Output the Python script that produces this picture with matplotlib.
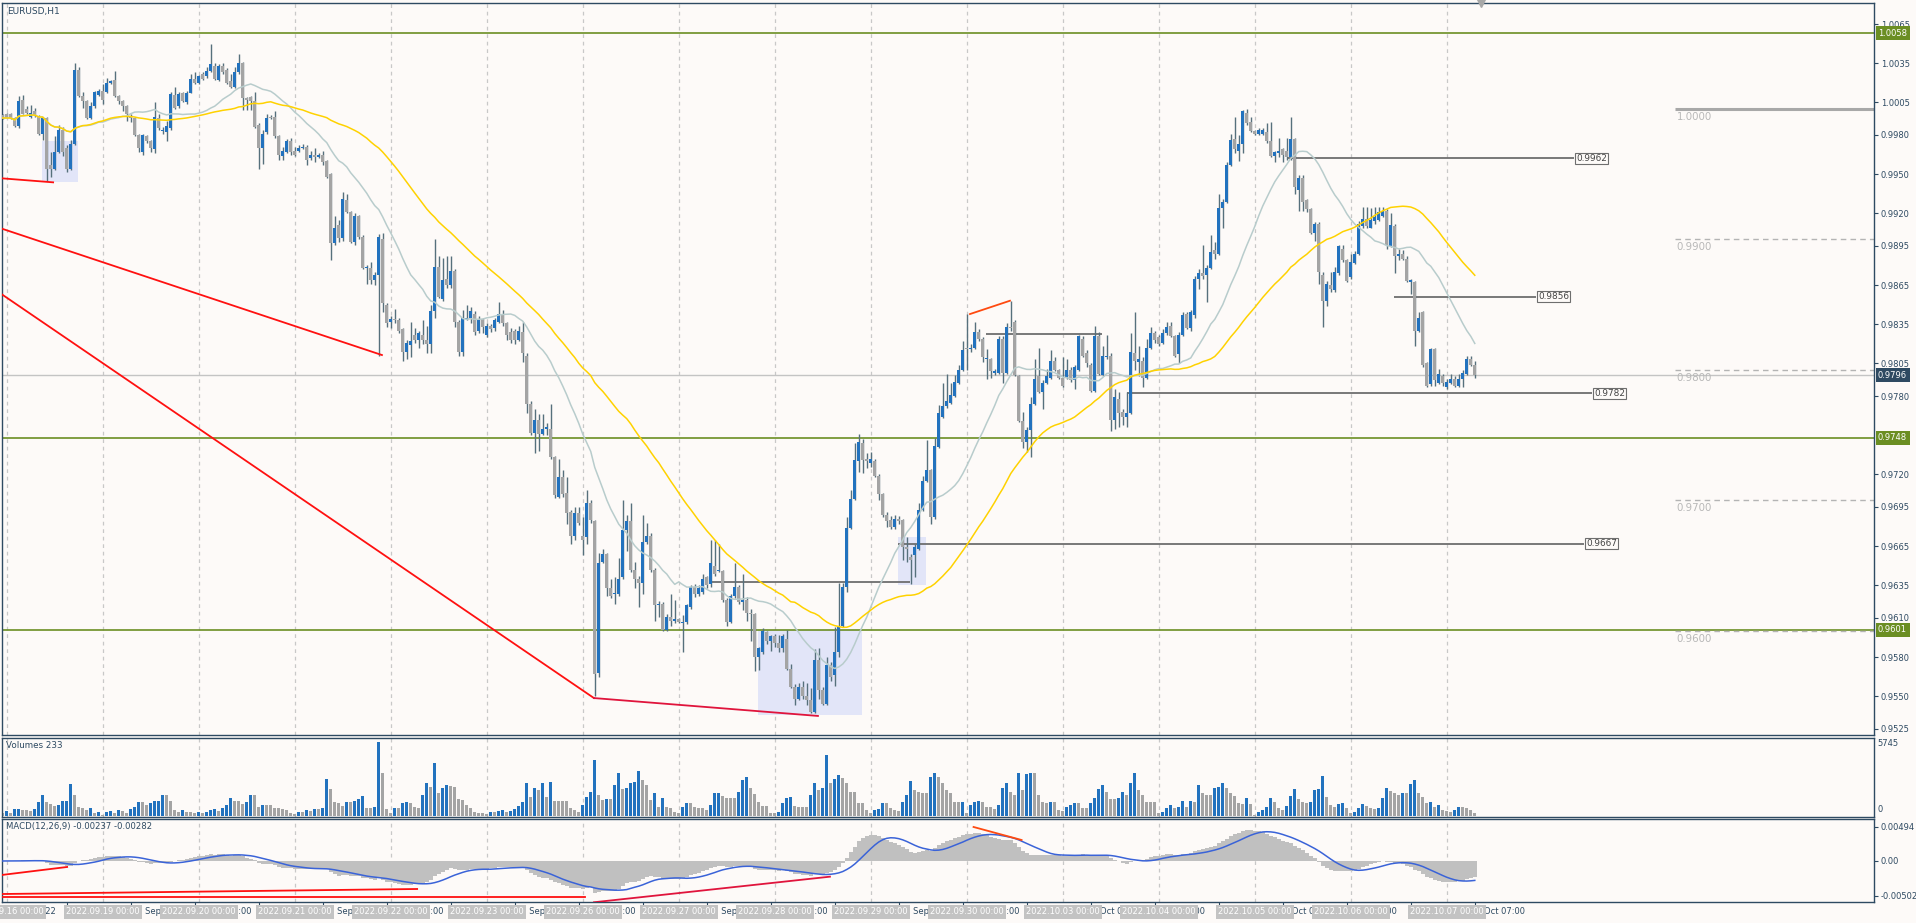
import matplotlib
matplotlib.use("Agg")
import matplotlib.pyplot as plt
import matplotlib.transforms as mtransforms
from matplotlib.patches import Rectangle
import numpy as np
import pandas as pd

W, H = 1916, 923
BG = "#fdfaf8"
FRAME = "#2e4a62"
UP = "#2272be"
DOWN = "#a4a4a4"
WICK = "#56707c"
LEVEL = "#6b8e23"
GRID = "#c8c8c8"

# EURUSD H1, first bar 2022.09.15 23:00, values in pips above 0.9500
BASE, PIP = 0.9500, 0.0001
FIRST_BAR = "2022-09-15 23:00"
TRADING_DAYS = ["2022-09-16", "2022-09-19", "2022-09-20", "2022-09-21", "2022-09-22",
                "2022-09-23", "2022-09-26", "2022-09-27", "2022-09-28", "2022-09-29",
                "2022-09-30", "2022-10-03", "2022-10-04", "2022-10-05", "2022-10-06",
                "2022-10-07"]

opens = [
    495,
    496, 496, 493, 487, 507, 500, 494, 498, 494, 481, 493, 457, 454, 467, 484, 470, 454, 473, 530, 510, 506, 493, 502, 511,
    514, 513, 520, 522, 510, 506, 502, 494, 493, 480, 467, 479, 475, 469, 493, 483, 482, 485, 511, 502, 512, 505, 512, 523,
    520, 527, 525, 529, 533, 522, 533, 530, 521, 517, 528, 535, 508, 509, 506, 488, 470, 482, 494, 494, 479, 464, 467, 475,
    468, 468, 470, 471, 462, 465, 463, 465, 460, 450, 397, 411, 401, 430, 421, 398, 418, 402, 378, 378, 369, 373, 400, 350,
    337, 339, 338, 331, 314, 319, 327, 323, 327, 323, 320, 345, 379, 354, 370, 365, 376, 337, 314, 339, 340, 343, 330, 339,
    327, 334, 332, 337, 343, 336, 329, 330, 323, 329, 311, 274, 252, 262, 251, 255, 255, 233, 203, 218, 206, 191, 173, 190,
    173, 172, 198, 184, 68, 153, 159, 133, 128, 128, 141, 177, 184, 147, 140, 137, 168, 173, 147, 120, 121, 101, 111, 108,
    109, 106, 107, 118, 134, 128, 130, 141, 136, 150, 146, 146, 124, 107, 127, 134, 122, 124, 114, 113, 80, 84, 99, 92,
    96, 91, 87, 94, 71, 57, 48, 57, 50, 47, 38, 78, 55, 44, 74, 66, 84, 104, 134, 179, 201, 230, 244, 232,
    229, 230, 219, 205, 189, 185, 180, 186, 185, 164, 157, 158, 163, 193, 215, 223, 187, 241, 264, 272, 275, 280, 290, 300,
    317, 316, 317, 329, 324, 308, 308, 298, 298, 324, 298, 333, 337, 295, 261, 245, 254, 274, 295, 283, 290, 294, 307, 300,
    294, 294, 300, 292, 300, 324, 313, 304, 284, 326, 296, 310, 311, 262, 278, 268, 264, 267, 313, 306, 307, 294, 317, 328,
    325, 321, 328, 334, 326, 312, 327, 343, 332, 342, 370, 374, 373, 378, 392, 389, 424, 429, 457, 477, 468, 473, 497, 490,
    483, 481, 481, 482, 475, 464, 466, 469, 468, 463, 477, 438, 447, 430, 423, 405, 412, 373, 353, 365, 361, 374, 393, 384,
    371, 382, 389, 410, 416, 409, 414, 415, 418, 422, 395, 410, 387, 389, 385, 367, 367, 330, 344, 305, 289, 316, 290, 295,
    287, 290, 293, 288, 293, 297, 308, 304,
]
highs = [
    496,
    497, 497, 494, 510, 511, 502, 503, 501, 495, 494, 494, 467, 479, 488, 486, 472, 476, 535, 532, 513, 507, 505, 514, 515,
    519, 524, 522, 529, 511, 507, 503, 496, 494, 481, 481, 480, 476, 505, 496, 486, 491, 513, 517, 513, 513, 514, 527, 528,
    526, 528, 532, 550, 535, 534, 535, 531, 527, 532, 542, 536, 509, 510, 513, 489, 484, 496, 495, 498, 480, 471, 477, 478,
    471, 472, 473, 472, 468, 470, 466, 468, 461, 451, 418, 415, 436, 435, 422, 420, 419, 403, 380, 383, 375, 404, 405, 351,
    341, 347, 340, 332, 323, 337, 332, 330, 338, 334, 350, 400, 387, 386, 387, 387, 377, 338, 346, 350, 348, 345, 341, 340,
    336, 335, 340, 352, 346, 337, 332, 331, 334, 337, 313, 276, 270, 266, 266, 259, 274, 234, 232, 223, 218, 193, 195, 195,
    187, 208, 200, 185, 160, 163, 160, 140, 141, 156, 200, 189, 198, 153, 142, 189, 183, 175, 148, 123, 122, 113, 128, 124,
    110, 112, 121, 135, 136, 135, 144, 142, 170, 170, 167, 147, 125, 128, 152, 135, 144, 126, 117, 114, 88, 102, 100, 97,
    98, 97, 98, 101, 75, 59, 60, 62, 60, 56, 86, 87, 57, 80, 76, 103, 137, 137, 187, 208, 244, 251, 247, 236,
    237, 232, 220, 206, 191, 188, 189, 188, 186, 172, 159, 167, 198, 219, 246, 224, 248, 273, 290, 297, 290, 296, 304, 322,
    343, 320, 337, 331, 325, 316, 309, 301, 326, 326, 336, 353, 338, 296, 268, 256, 279, 308, 317, 292, 301, 315, 310, 301,
    310, 308, 302, 304, 327, 326, 315, 305, 334, 329, 318, 327, 313, 285, 283, 270, 283, 328, 344, 318, 310, 324, 333, 330,
    327, 331, 337, 337, 327, 329, 344, 344, 346, 372, 377, 396, 380, 403, 398, 435, 431, 459, 481, 494, 480, 499, 500, 494,
    484, 485, 485, 489, 490, 468, 478, 470, 478, 494, 478, 449, 449, 431, 424, 413, 413, 375, 368, 375, 379, 396, 396, 385,
    389, 391, 414, 425, 425, 424, 425, 425, 425, 423, 420, 412, 393, 392, 387, 370, 368, 344, 345, 306, 317, 317, 301, 297,
    293, 297, 295, 297, 300, 311, 311, 307,
]
lows = [
    492,
    493, 492, 486, 485, 496, 496, 493, 494, 480, 476, 445, 448, 453, 466, 464, 452, 453, 472, 509, 501, 492, 492, 501, 510,
    504, 512, 519, 509, 504, 498, 491, 490, 479, 467, 465, 474, 467, 466, 484, 481, 475, 484, 500, 501, 505, 504, 512, 519,
    519, 522, 524, 528, 522, 521, 527, 519, 516, 516, 527, 499, 499, 499, 485, 454, 458, 481, 492, 478, 461, 461, 466, 465,
    464, 467, 469, 457, 461, 459, 462, 457, 447, 384, 396, 398, 399, 420, 397, 396, 400, 377, 366, 366, 365, 311, 344, 333,
    332, 336, 328, 307, 308, 310, 321, 317, 320, 313, 313, 340, 355, 353, 363, 363, 333, 311, 311, 338, 336, 327, 328, 328,
    325, 329, 330, 336, 334, 323, 321, 320, 322, 306, 267, 250, 236, 238, 250, 250, 232, 202, 202, 203, 182, 167, 170, 181,
    158, 167, 183, 50, 65, 152, 127, 125, 121, 127, 140, 161, 145, 133, 118, 128, 167, 145, 108, 111, 100, 100, 104, 106,
    106, 84, 105, 117, 126, 127, 128, 133, 134, 142, 145, 122, 104, 106, 125, 121, 116, 108, 92, 69, 70, 82, 90, 85,
    88, 84, 84, 70, 56, 43, 47, 48, 43, 37, 37, 48, 43, 43, 62, 58, 80, 103, 130, 178, 200, 222, 221, 225,
    226, 218, 200, 187, 180, 178, 178, 182, 154, 153, 136, 141, 162, 192, 214, 182, 186, 240, 263, 271, 274, 279, 289, 299,
    300, 314, 316, 322, 306, 293, 294, 296, 297, 290, 297, 330, 295, 260, 240, 237, 233, 273, 282, 270, 289, 293, 299, 293,
    287, 293, 291, 285, 299, 310, 302, 283, 283, 296, 295, 308, 253, 255, 256, 258, 256, 266, 300, 295, 287, 293, 316, 321,
    318, 320, 327, 325, 310, 305, 326, 331, 330, 340, 362, 370, 352, 377, 385, 388, 409, 428, 456, 466, 460, 466, 488, 482,
    480, 480, 480, 474, 463, 459, 463, 459, 461, 461, 435, 422, 422, 421, 404, 399, 366, 333, 349, 360, 360, 373, 383, 367,
    370, 381, 388, 409, 409, 409, 412, 414, 417, 393, 394, 374, 384, 384, 367, 358, 318, 329, 302, 287, 288, 288, 289, 288,
    285, 289, 287, 287, 287, 296, 303, 294,
]
closes = [
    493,
    493, 493, 487, 506, 496, 497, 497, 495, 481, 493, 454, 454, 467, 484, 467, 454, 473, 530, 510, 506, 493, 502, 513, 514,
    507, 520, 521, 510, 506, 502, 496, 493, 480, 470, 480, 475, 470, 494, 485, 484, 487, 511, 501, 511, 506, 512, 523, 520,
    525, 523, 529, 534, 523, 533, 528, 520, 517, 528, 535, 508, 507, 506, 486, 470, 481, 493, 493, 479, 465, 468, 475, 467,
    465, 470, 471, 461, 465, 463, 465, 459, 448, 397, 409, 401, 431, 421, 398, 418, 402, 378, 379, 369, 373, 402, 351, 336,
    339, 338, 330, 314, 321, 322, 323, 328, 323, 320, 345, 379, 356, 369, 365, 376, 337, 314, 340, 340, 345, 329, 339, 333,
    334, 331, 338, 343, 336, 327, 323, 323, 330, 313, 274, 252, 262, 251, 255, 256, 233, 204, 218, 205, 190, 173, 190, 183,
    170, 198, 185, 67, 152, 159, 133, 127, 129, 140, 177, 184, 147, 140, 137, 168, 173, 147, 120, 121, 101, 111, 108, 109,
    107, 107, 120, 134, 128, 133, 140, 135, 152, 144, 147, 124, 107, 127, 134, 122, 124, 114, 113, 80, 87, 100, 92, 96,
    91, 87, 96, 71, 57, 48, 57, 50, 47, 38, 78, 55, 44, 74, 65, 84, 104, 134, 179, 201, 231, 245, 231, 230,
    232, 219, 205, 189, 184, 180, 186, 184, 164, 163, 154, 164, 193, 215, 223, 187, 242, 267, 272, 276, 281, 291, 300, 315,
    316, 317, 329, 324, 310, 309, 299, 299, 324, 298, 333, 332, 296, 261, 245, 254, 274, 293, 283, 290, 295, 307, 300, 294,
    288, 300, 292, 302, 326, 311, 305, 284, 326, 297, 311, 311, 262, 279, 267, 264, 267, 314, 307, 308, 294, 317, 328, 323,
    320, 328, 333, 326, 311, 327, 342, 332, 344, 370, 374, 372, 378, 390, 389, 424, 429, 457, 476, 469, 473, 498, 489, 483,
    481, 484, 484, 475, 464, 467, 468, 465, 463, 477, 440, 447, 429, 423, 405, 412, 375, 353, 366, 362, 375, 395, 384, 368,
    383, 389, 412, 416, 410, 415, 417, 421, 422, 396, 411, 387, 389, 385, 368, 369, 330, 340, 304, 288, 316, 292, 297, 290,
    291, 293, 288, 293, 298, 308, 304, 296,
]
volumes = [
    200,
    410, 260, 520, 540, 470, 470, 410, 540, 1090, 1630, 1110, 930, 800, 860, 1170, 1190, 2490, 1630, 730, 600, 470, 600, 260, 310,
    80, 310, 410, 260, 470, 410, 260, 520, 730, 1110, 1060, 860, 1030, 1170, 1190, 1630, 1630, 1170, 470, 340, 470, 340, 310, 260,
    310, 260, 340, 470, 540, 410, 600, 860, 1400, 1170, 1170, 900, 1110, 1630, 1630, 730, 830, 830, 830, 600, 600, 520, 470, 260,
    130, 340, 310, 470, 410, 520, 520, 600, 2870, 2070, 1110, 990, 780, 1110, 1110, 1170, 1300, 1550, 650, 600, 700, 5745, 3370, 520,
    260, 600, 600, 1040, 1110, 1040, 730, 600, 1630, 2540, 2280, 4140, 1810, 2150, 2410, 2360, 2280, 1300, 1240, 860, 600, 340, 260, 200,
    130, 340, 340, 410, 470, 340, 410, 540, 780, 1110, 2600, 1500, 2150, 2020, 2540, 1500, 2670, 1190, 1190, 1190, 1190, 600, 470, 340,
    860, 1500, 1890, 4350, 1630, 1240, 1300, 1300, 2410, 3310, 2070, 2150, 2540, 2670, 3520, 2800, 2410, 1240, 1810, 730, 1380, 730, 600, 340,
    200, 730, 990, 990, 730, 600, 600, 470, 860, 1770, 1820, 1560, 1380, 1380, 1380, 1900, 2760, 3020, 2160, 1720, 1120, 780, 780, 260,
    260, 340, 1040, 1380, 1460, 780, 730, 730, 730, 1640, 2600, 1980, 2160, 4740, 2600, 2860, 3200, 2940, 2550, 1900, 1900, 990, 990, 470,
    200, 470, 520, 1040, 990, 600, 470, 420, 1120, 1640, 2680, 2030, 1900, 1810, 1760, 3050, 3370, 3050, 2540, 2030, 1760, 1120, 1090, 1120,
    200, 860, 1120, 1160, 1120, 730, 730, 520, 860, 2150, 2540, 1900, 1640, 3310, 2030, 3260, 3310, 3310, 1640, 1120, 990, 1120, 1120, 470,
    410, 730, 860, 1040, 990, 600, 600, 990, 1380, 2070, 2410, 1900, 1300, 1300, 1380, 1900, 1640, 2540, 3310, 2030, 1640, 1120, 1120, 1120,
    260, 340, 600, 860, 600, 730, 1170, 730, 1170, 1110, 2410, 1760, 1640, 1640, 2150, 2280, 2600, 2150, 1760, 1560, 990, 910, 1380, 910,
    80, 340, 470, 730, 1380, 1110, 600, 470, 780, 1560, 2070, 1300, 1110, 1040, 1110, 2020, 2070, 3110, 1450, 860, 730, 930, 990, 600,
    260, 340, 600, 930, 780, 600, 520, 600, 1380, 2150, 1970, 1760, 1640, 1760, 1760, 2490, 2800, 1810, 1450, 1040, 1110, 730, 860, 470,
    390, 340, 470, 670, 670, 600, 470, 233,
]

# chart objects: horizontal levels, zones (bar from, bar to, low, high), trend lines
GREEN_LEVELS = [1.0058, 0.9748, 0.9601]
ROUND_LEVELS = [1.0000, 0.9900, 0.9800, 0.9700, 0.9600]
ROUND_FROM_BAR = 418
PRICE_TICKS = [1.0065, 1.0035, 1.0005, 0.9980, 0.9950, 0.9920, 0.9895, 0.9865, 0.9835,
               0.9805, 0.9780, 0.9720, 0.9695, 0.9665, 0.9635, 0.9610, 0.9580, 0.9550, 0.9525]
ZONES = [(9.8, 18.8, 0.99439, 0.99754), (188.8, 214.8, 0.95356, 0.96007),
         (223.8, 230.7, 0.96354, 0.96717)]
SR_LINES = [(176.8, 226.8, 0.96375, None), (245.8, 274.7, 0.98275, None),
            (223.9, 395.3, 0.9667, "0.9667"), (281.0, 397.3, 0.9782, "0.9782"),
            (321.0, 392.8, 0.9962, "0.9962"), (347.8, 383.3, 0.9856, "0.9856")]
TRENDS = [((-0.3, 0.99468), (12.6, 0.99437), "#ff1010"),
          ((-0.7, 0.99087), (94.8, 0.98114), "#ff1010"),
          ((-0.7, 0.98589), (147.8, 0.95486), "#ff1010"),
          ((147.8, 0.95486), (203.8, 0.95349), "#e0143c"),
          ((241.8, 0.98428), (251.8, 0.98530), "#ff4a10")]
MACD_TRENDS = [((-0.2, -0.00203), (16.1, -0.00087), "#ff1010"),
               ((-0.2, -0.00480), (103.6, -0.00407), "#ff1010"),
               ((-0.2, -0.00523), (145.6, -0.00523), "#ff1010"),
               ((147.8, -0.00600), (206.8, -0.00228), "#e0143c"),
               ((242.7, 0.00494), (254.7, 0.00305), "#ff4a10")]
MACD_TICKS = [0.00494, 0.0, -0.00502]
MACD_TEXT = "MACD(12,26,9) -0.00237 -0.00282"

n = min(len(opens), len(highs), len(lows), len(closes), len(volumes))
o = BASE + np.array(opens[:n]) * PIP
h = BASE + np.array(highs[:n]) * PIP
l = BASE + np.array(lows[:n]) * PIP
c = BASE + np.array(closes[:n]) * PIP
vol = np.array(volumes[:n])
x = np.arange(n)

times = [pd.Timestamp(FIRST_BAR)]
for d in TRADING_DAYS:
    times += [pd.Timestamp(d) + pd.Timedelta(hours=hh) for hh in range(24)]
times = times[:n]
day_bars = [i for i, t in enumerate(times) if t.hour == 0]

cs = pd.Series(c)
ma_fast = cs.rolling(21, min_periods=1).mean()
ma_slow = cs.rolling(50, min_periods=1).mean()
macd = cs.ewm(span=12, adjust=False).mean() - cs.ewm(span=26, adjust=False).mean()
signal = macd.rolling(9, min_periods=1).mean()

plt.rcParams["font.family"] = ["DejaVu Sans"]
fig = plt.figure(figsize=(W / 100, H / 100), dpi=100, facecolor=BG)


def px_axes(x0, y0, x1, y1):
    a = fig.add_axes([x0 / W, 1 - y1 / H, (x1 - x0) / W, (y1 - y0) / H])
    a.set_facecolor(BG)
    for s in a.spines.values():
        s.set_color(FRAME)
        s.set_linewidth(1)
    a.set_xlim(-0.18, 467.8)
    return a


ax = px_axes(2, 3, 1874, 735)
axv = px_axes(2, 738, 1874, 817)
axm = px_axes(2, 819, 1874, 902)

for a in (ax, axv, axm):
    for b in day_bars:
        a.axvline(b, color=GRID, lw=0.9, ls=(0, (3, 3)), zorder=0.4)
    a.tick_params(axis="x", bottom=False, labelbottom=False)

# ---- price panel
ax.set_ylim(0.95203, 1.00811)
for z in ZONES:
    ax.add_patch(Rectangle((z[0], z[2]), z[1] - z[0], z[3] - z[2], fc="#e2e5f8", ec="none", zorder=0.5))
for lv in GREEN_LEVELS:
    ax.axhline(lv, color=LEVEL, lw=1.2, zorder=1)
ax.axhline(c[-1], color="#c4c4c4", lw=1, zorder=1)
for lv in ROUND_LEVELS:
    if lv == 1.0:
        ax.hlines(lv, ROUND_FROM_BAR, 467.8, color="#a8a8a8", lw=2.2, zorder=1)
    else:
        ax.hlines(lv, ROUND_FROM_BAR, 467.8, color="#b4b4b4", lw=1, ls=(0, (4, 3)), zorder=1)
    ax.annotate(f"{lv:.4f}", (ROUND_FROM_BAR + 0.5, lv), xytext=(0, -2), textcoords="offset points",
                ha="left", va="top", fontsize=7.4, color="#b8b8b8")

for x0, x1, p, lab in SR_LINES:
    ax.hlines(p, x0, x1, color="#6e6e6e", lw=1.3, zorder=2)
    if lab:
        ax.text(x1 + 0.6, p, lab, ha="left", va="center", fontsize=6.4, color="#444444", zorder=6,
                bbox=dict(boxstyle="square,pad=0.12", fc=BG, ec="#6e6e6e", lw=0.8))

for (xa, ya), (xb, yb), col in TRENDS:
    ax.plot([xa, xb], [ya, yb], color=col, lw=1.3, zorder=5)

ax.vlines(x, l, h, colors=WICK, lw=1, zorder=3)
body_col = np.where(c > o, UP, DOWN)
ax.bar(x, np.maximum(np.abs(c - o), 0.00008), bottom=np.minimum(o, c), width=0.78,
       color=body_col, lw=0, zorder=3.5)
ax.plot(x, ma_fast, color="#b8cccc", lw=1.1, zorder=4)
ax.plot(x, ma_slow, color="#ffd200", lw=1.1, zorder=4)

ax.yaxis.tick_right()
ax.set_yticks(PRICE_TICKS)
ax.set_yticklabels([f"{p:.4f}" for p in PRICE_TICKS])
ax.tick_params(axis="y", length=3, width=0.8, color=FRAME, labelsize=6, labelcolor=FRAME, pad=2)

tr_r = mtransforms.offset_copy(mtransforms.blended_transform_factory(ax.transAxes, ax.transData),
                               fig=fig, x=4, y=0, units="dots")
for lv in GREEN_LEVELS:
    ax.text(1.0, lv, f"{lv:.4f}", transform=tr_r, ha="left", va="center", fontsize=6, color="white",
            zorder=7, bbox=dict(boxstyle="square,pad=0.3", fc=LEVEL, ec="none"))
ax.text(1.0, c[-1], f"{c[-1]:.4f}", transform=tr_r, ha="left", va="center", fontsize=6, color="white",
        zorder=7, bbox=dict(boxstyle="square,pad=0.3", fc=FRAME, ec="none"))
ax.text(0.003, 0.994, "EURUSD,H1", transform=ax.transAxes, ha="left", va="top", fontsize=6.5, color=FRAME)
ax.plot([n + 0.6], [1.00811], marker="v", ms=6, color="#a8a8a8", clip_on=False, zorder=8)

# ---- volumes
vol_col = [DOWN] + [UP if vol[i] > vol[i - 1] else DOWN for i in range(1, n)]
axv.bar(x, vol, width=0.8, color=vol_col, lw=0, zorder=2)
axv.set_ylim(-78, 6055)
axv.set_yticks([])
axv.text(1.002, 0.93, f"{vol.max()}", transform=axv.transAxes, ha="left", va="center", fontsize=6, color=FRAME)
axv.text(1.002, 0.09, "0", transform=axv.transAxes, ha="left", va="center", fontsize=6, color=FRAME)
axv.text(0.002, 0.96, f"Volumes {vol[-1]}", transform=axv.transAxes, ha="left", va="top", fontsize=6.3, color=FRAME)

# ---- MACD
axm.bar(x, macd, width=1.0, color="#c0c0c0", lw=0, zorder=2)
axm.plot(x, signal, color="#3a63d8", lw=1.1, zorder=3)
for (xa, ya), (xb, yb), col in MACD_TRENDS:
    axm.plot([xa, xb], [ya, yb], color=col, lw=1.3, zorder=4)
axm.set_ylim(-0.00596, 0.00610)
axm.yaxis.tick_right()
axm.set_yticks(MACD_TICKS)
axm.set_yticklabels(["0.00494", "0.00", "-0.00502"])
axm.tick_params(axis="y", length=3, width=0.8, color=FRAME, labelsize=6, labelcolor=FRAME, pad=2)
axm.text(0.002, 0.96, MACD_TEXT, transform=axm.transAxes, ha="left", va="top", fontsize=6.1, color=FRAME)

# ---- time scale: MT5 labels every 16 bars, day-separator labels boxed on top
tick_bars = list(range(16, n, 16))
axm.set_xticks(tick_bars)
axm.tick_params(axis="x", bottom=True, length=3, width=0.8, color=FRAME, labelbottom=False)
tr_t = mtransforms.blended_transform_factory(axm.transData, fig.transFigure)
ylab = 1 - 912 / H
axm.text(0, ylab, f"{times[1].day} {times[1]:%b %Y}", transform=tr_t, ha="left", va="center",
         fontsize=6, color=FRAME, zorder=3, clip_on=False)
for b in tick_bars:
    t = times[b]
    axm.text(b + 0.3, ylab, f"{t.day} {t:%b %H:%M}", transform=tr_t, ha="left", va="center",
             fontsize=6, color=FRAME, zorder=3, clip_on=False)
for b in day_bars:
    axm.text(b, ylab, f"{times[b]:%Y.%m.%d %H:%M}", transform=tr_t, ha="center", va="center",
             fontsize=6, color="white", zorder=4, clip_on=False,
             bbox=dict(boxstyle="square,pad=0.25", fc="#c3c3c3", ec="none"))

fig.savefig("out.png", dpi=100, facecolor=BG)
